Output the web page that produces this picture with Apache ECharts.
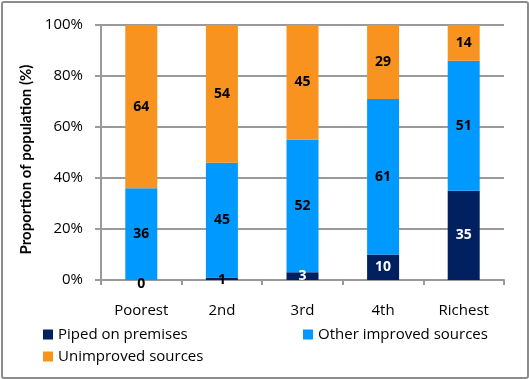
<!DOCTYPE html>
<html><head><meta charset="utf-8">
<script src="https://cdn.jsdelivr.net/npm/echarts@6/dist/echarts.min.js"></script>
<style>html,body{margin:0;padding:0;background:#fff}#c{width:529px;height:379px}
#frame{position:absolute;left:1px;top:1px;width:524px;height:374px;border:2px solid #8c8c8c;border-radius:3px;pointer-events:none}</style>
</head><body><div id="c"></div><div id="frame"></div>
<script>
const categories = ['Poorest','2nd','3rd','4th','Richest'];
const piped = [0,1,3,10,35];
const otherImproved = [36,45,52,61,51];
const unimproved = [64,54,45,29,14];
const yTicks = ['0%','20%','40%','60%','80%','100%'];

const FONT = '"Open Sans", sans-serif';
const cNavy = '#002060', cBlue = '#0099FF', cOrange = '#F7931E';

const chart = echarts.init(document.getElementById('c'));
const lbl = (color, dy) => ({show:true, position:'inside', color, fontFamily:FONT, fontWeight:'bold', fontSize:14, offset:[0,dy||0]});
const legText = {fontFamily:FONT,fontSize:15,color:'#000'};
chart.setOption({
  animation:false,
  grid:{left:101,right:25,top:25,bottom:99},
  legend:[
    {data:['Piped on premises'],left:38,top:322,itemWidth:10,itemHeight:10,icon:'rect',textStyle:legText},
    {data:['Other improved sources'],left:298,top:322,itemWidth:10,itemHeight:10,icon:'rect',textStyle:legText},
    {data:['Unimproved sources'],left:38,top:344,itemWidth:10,itemHeight:10,icon:'rect',textStyle:legText}
  ],
  xAxis:{type:'category',data:categories,
    axisLine:{lineStyle:{color:'#9a9a9a',width:2}},
    axisTick:{show:true,length:5,lineStyle:{color:'#9a9a9a',width:2}},
    axisLabel:{color:'#000',fontFamily:FONT,fontSize:15,margin:23}},
  yAxis:{type:'value',min:0,max:100,interval:20,
    name:'Proportion of population (%)',nameLocation:'middle',nameGap:49,
    nameTextStyle:{fontFamily:'Lato, sans-serif',fontWeight:'bold',fontSize:15,color:'#000',padding:[0,14,0,0]},
    axisLine:{show:true,lineStyle:{color:'#9a9a9a',width:2}},
    axisTick:{show:true,length:6,lineStyle:{color:'#9a9a9a',width:2}},
    splitLine:{lineStyle:{color:'#9a9a9a',width:2}},
    axisLabel:{color:'#000',fontFamily:FONT,fontSize:15,margin:18,formatter:(v)=>yTicks[v/20]}},
  series:[
    {name:'Piped on premises',type:'bar',stack:'s',barWidth:32,itemStyle:{color:cNavy},
      data:piped.map(v=>({value:v,label:lbl(v<2?'#000':'#fff', v===0?4:(v===1?1:0))})),label:lbl('#fff')},
    {name:'Other improved sources',type:'bar',stack:'s',barWidth:32,itemStyle:{color:cBlue},data:otherImproved,label:lbl('#000')},
    {name:'Unimproved sources',type:'bar',stack:'s',barWidth:32,itemStyle:{color:cOrange},data:unimproved,label:lbl('#000')}
  ]
});
</script></body></html>
